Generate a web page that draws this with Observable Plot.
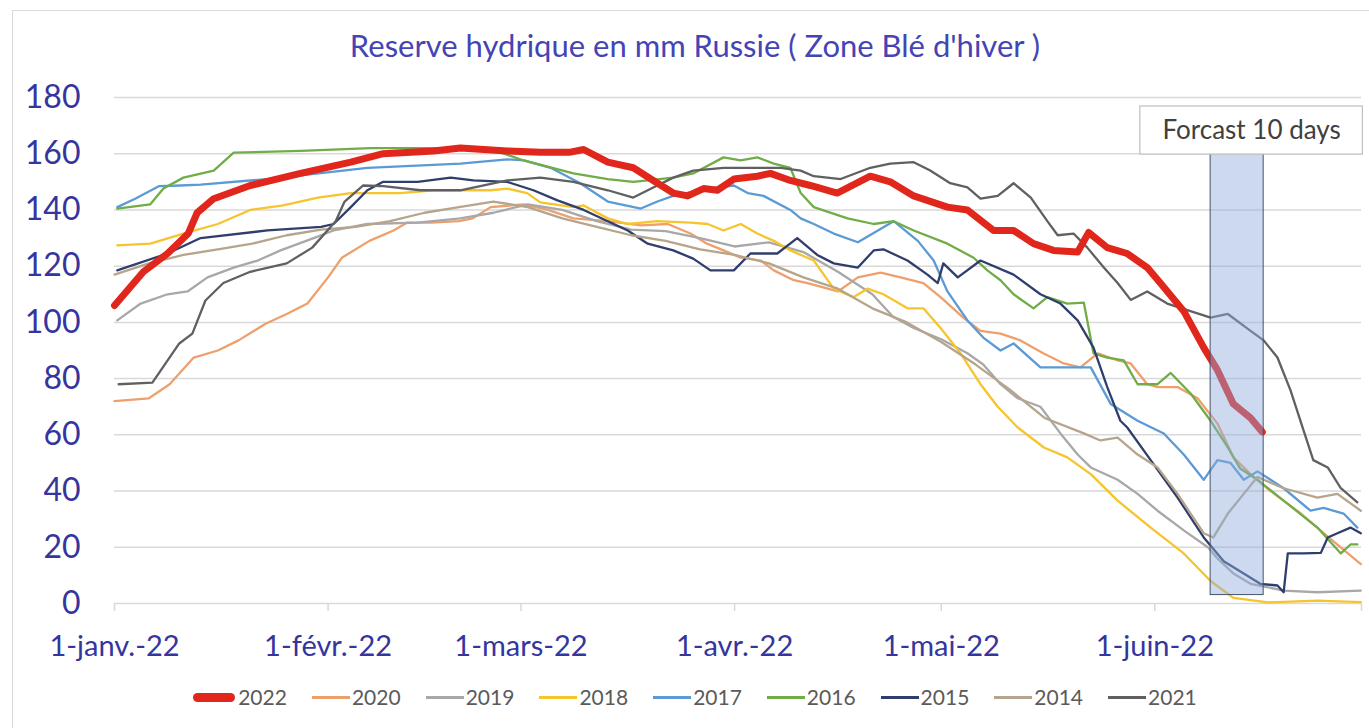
<!DOCTYPE html>
<html><head><meta charset="utf-8">
<script src="https://cdn.jsdelivr.net/npm/d3@7"></script>
<script src="https://cdn.jsdelivr.net/npm/@observablehq/plot@0.6"></script>
<style>
body{margin:0;background:#fff;font-family:Lato,sans-serif;width:1369px;height:728px;overflow:hidden;position:relative;}
#frame{position:absolute;left:12px;top:10px;right:0;bottom:0;border-top:1.5px solid #dadada;border-left:1.5px solid #dadada;}
#title{position:absolute;top:26px;left:10px;width:1370px;text-align:center;font-size:31px;line-height:38px;color:#4444b4;}
#chart{position:absolute;top:60px;left:0;}
#legend{position:absolute;top:685px;left:10px;width:1370px;display:flex;justify-content:center;gap:25px;font-size:21px;line-height:24px;color:#5a5a5a;}
.item{display:flex;align-items:center;}
.sw{width:38px;height:3px;margin-right:2px;}
.sw.big{width:42px;height:9px;border-radius:5px;margin-right:3px;}
</style></head>
<body>
<div id="frame"></div>
<div id="title">Reserve hydrique en mm Russie ( Zone Blé d'hiver )</div>
<div id="chart"></div>
<div id="legend"></div>
<script>
// ---- data: [day offset from 1 Jan 2022, mm] ----
const years  = ["2022","2020","2019","2018","2017","2016","2015","2014","2021"];
const colors = ["#e1261c","#eea06c","#a8a8a8","#f6c42c","#5b9bd5","#70ad47","#2f3e6c","#b6a58c","#606060"];

const s2022 = [[0,106],[4.2,118],[7.7,124.5],[10.7,131.6],[12,139],[14.4,144],[19.7,148.7],[27,153],[34.3,157],[39,160],[46.3,161],[50.2,162],[57,161],[61.8,160.5],[66,160.5],[68.1,161.5],[71.6,157],[75.3,155],[78.2,150.5],[81.1,146],[83.2,145],[85.5,147.6],[87.5,147],[89.9,151],[93.3,152],[95.2,153],[98.1,150.5],[101,148.7],[104.9,146],[109.7,152],[112.6,150],[116,145],[120.9,141],[123.8,140],[127.6,132.7],[130.5,132.7],[133.4,128],[136.3,125.6],[139.8,125],[141.4,132],[144.1,126.6],[147,124.5],[149.9,119.5],[151.8,114],[155.2,104],[158.1,91],[160.1,83],[162.4,71],[164.9,66],[166.6,61]];

const s2020 = [[0,72],[5,73],[8,78],[11.5,87.5],[15,90],[18,93.6],[22,99.6],[25,103],[28,106.7],[31,116],[33,123],[37,129],[40.5,132.7],[42.5,135.5],[46,135.5],[50,136],[52,137],[54.6,141],[59.4,142],[62.9,140],[66.6,137],[71.6,136],[76.4,134.5],[80.3,135],[83.6,131.6],[86,128],[88.4,125.6],[90.9,123],[93.8,122],[95.7,118.5],[98.6,115],[100.6,114],[105,111],[107.9,116],[111.2,117.7],[114.1,116],[117.4,114],[119.9,109],[123.2,101.7],[125.7,97],[128.6,96],[131.5,93.6],[134.8,89],[137.8,85.4],[140.2,84],[142.7,89],[145.6,86.5],[147.5,85.4],[149.9,78],[151.4,77],[154.3,77],[157.2,73],[160.1,64],[162.4,52],[164.9,46],[167.8,40],[172.2,32],[175.5,25],[180.9,14]];

const s2019 = [[0.4,100.7],[3.8,106.7],[7.7,110],[10.6,111],[13.5,116],[17.3,119.5],[20.8,122],[24.1,125.6],[28.9,130],[31.8,132.7],[36.7,135],[44,135.5],[50.2,137],[55,139],[60,142],[65,140],[70,136],[75,133],[80,132.5],[85,130],[90,127],[95,128.5],[100,125],[105,118],[110,110],[113,102],[116,98],[120,94],[123.8,89],[126.1,85],[128.6,78],[131.1,73],[134.4,70],[137.3,60.5],[139.8,53],[141.7,48.4],[145.6,44],[148.5,39],[151.4,33],[155.2,26],[158.7,20],[160.1,16],[162.4,10.7],[164.9,7],[169.7,4.6],[174.6,4],[180.9,4.6]];

const s2018 = [[0.4,127.4],[5.2,128],[10,131.6],[15,135],[19.7,140],[24.5,141.6],[29.5,144.4],[34.3,146],[41.5,146],[46.3,147],[54.6,147],[57,147.6],[59.9,146],[61.8,142.7],[66.6,141],[68.1,141.6],[71.6,137],[74.5,135],[78.8,136],[83.6,135.5],[86.1,135],[88.4,132.7],[90.9,135],[93.3,131.6],[95.7,129],[98.1,125.6],[101.5,122],[104.4,112],[107.3,109],[109.3,112],[111.6,110],[115.1,105],[117.4,105],[119.9,98],[122.8,89],[125.7,78],[128.2,70],[131.1,62.6],[134.9,55.5],[138.3,52],[141.7,46],[145.6,36.6],[150.4,27],[155.2,17.8],[159.1,8],[162.4,2],[167.4,0.4],[174.6,1],[180.9,0.5]];

const s2017 = [[0.4,141],[3,144],[6.5,148.5],[9.6,148.7],[12.5,149],[22.2,151],[36.7,155],[50.2,156.5],[57,158],[59.4,157.6],[63.3,155],[67.6,149.5],[71.6,143],[76.4,140.5],[78.8,143],[81.1,145],[86.1,147.6],[89.9,148.7],[91.9,146],[94.2,145],[98.1,140],[99.6,137],[101.5,135],[104.4,131.6],[107.9,128.5],[110.8,132.7],[113.1,136],[116.6,129],[118.9,122],[120.9,111],[123.8,100.7],[126.1,94.6],[128.6,90],[130.5,92.5],[134.4,84],[137.8,84],[141.7,84],[144.6,71],[148.5,65],[152.3,60.5],[155.2,53],[158.1,44],[160.1,51],[162,50],[163.9,44],[165.9,47],[167.8,44],[169.7,41],[173.6,33],[175.5,34],[178.4,32],[180.4,27]];

const s2016 = [[0.4,140.5],[5.2,142],[7.1,147.6],[10,151.5],[14.4,154],[17.3,160.4],[27,161],[37.2,162],[50.2,162],[56,160.5],[59.4,157.6],[66.6,153],[71.6,151],[75.3,150],[77.4,150.5],[81.1,151.5],[84,153],[88.4,158.7],[90.9,157.6],[93.3,158.7],[95.7,156.5],[98.1,155],[99.6,146],[101.5,141],[106.4,137],[110.2,135],[113.1,136],[116,132.7],[120.9,128],[124.7,123],[126.7,118.5],[128.6,115],[130.5,110],[133.4,105],[135.4,109],[138.3,106.7],[140.7,107],[142.1,89],[144.1,87.5],[146.5,86.5],[148.5,78],[151.4,78],[153.3,82],[156.2,74.7],[159.1,65],[161.6,55.5],[163.4,48],[165.9,44],[169.7,36.6],[174.6,27],[178,17.8],[179.4,21],[180.4,21]];

const s2015 = [[0.4,118.5],[7.7,124.5],[12.5,130],[22.2,132.7],[30,134],[31.8,135],[34.3,141],[36.7,147],[39,150],[44,150],[48.8,151.5],[52.1,150.5],[57,150],[60.8,147],[64.3,143.4],[68.1,140],[71.6,136],[74.5,132.7],[77.4,128],[81.1,125.6],[84,122.7],[86.5,118.5],[89.9,118.5],[92.3,124.5],[96.2,124.5],[99.1,130],[102,124],[104.4,121],[107.9,119.5],[110.2,125.6],[111.6,126],[115.1,122],[118,117],[119.5,114],[120.3,121],[122.4,116],[125.7,122],[130.5,117],[134.4,110],[137.3,106.7],[139.8,100.7],[142.1,91],[144.1,77],[146,65],[147,62.6],[150.4,51],[154.3,37.7],[158.1,23.5],[161,15],[163.9,10.7],[166.3,7],[168.8,6.4],[169.7,4],[170.3,17.8],[172.6,17.8],[175.1,18],[176.1,23.5],[177.5,25],[179.4,27],[180.9,25]];

const s2014 = [[0,117],[5,121],[10,124],[15,126],[20,128],[25,131],[30,133],[35,134],[40,136],[45,139],[50,141],[55,143],[60,141],[65,137],[70,134],[75,131],[80,129],[85,126],[90,124],[95,121],[100,116],[105,112],[110,105],[115,100],[120,93],[125,85],[130,76],[135,66],[140.7,60.5],[143.1,58],[145.6,59],[148.5,53],[151.4,48.4],[154.3,39],[156.2,32],[158.1,25],[159.5,23.5],[161.6,32],[163.9,39],[165.9,45],[169.7,41],[174.6,37.7],[177.5,39],[180.9,33]];

const s2021 = [[0.6,78],[5.5,78.6],[9.4,92.5],[11.3,96],[13.2,107.8],[15.8,114],[19.7,118],[25,121],[28.7,126.6],[32.1,136],[33.4,143],[36.1,148.7],[39,148.5],[44.4,147],[50.2,147],[57,150.5],[61.8,151.5],[66.6,150],[71.6,147],[75.3,144.4],[77.4,147],[81.1,151.5],[84,154],[88.4,155],[96.7,155],[99.6,154],[101.5,152],[105.4,151],[109.7,155],[112.6,156.5],[116,157],[118.4,154],[121.3,149.5],[123.8,148],[125.7,144],[128.2,145],[130.5,149.5],[133,144.4],[135.4,136],[136.9,131],[139.2,131.6],[141.2,126.6],[143.6,119.5],[145.6,114],[147.5,108],[149.9,111],[152.8,106.7],[159.1,101.7],[161.6,103],[164.9,97],[166.8,93.6],[168.8,87.5],[170.7,75.8],[172.6,61.5],[174,51],[176.1,48.4],[178,41],[180.4,36]];

const seriesByYear = {"2022":s2022,"2020":s2020,"2019":s2019,"2018":s2018,"2017":s2017,"2016":s2016,"2015":s2015,"2014":s2014,"2021":s2021};

const yTicks = [0,20,40,60,80,100,120,140,160,180];
const monthTicks = ["2022-01-01","2022-02-01","2022-03-01","2022-04-01","2022-05-01","2022-06-01","2022-07-01"];
const monthLabels = ["1-janv.-22","1-févr.-22","1-mars-22","1-avr.-22","1-mai-22","1-juin-22",""];

const forecast = {from: 159.1, to: 166.8, low: 3, high: 160};
const forecastLabel = {text: "Forcast 10 days", from: 148.9, to: 181.2, low: 159.7, high: 176.8};

// ---- build ----
const t0 = Date.UTC(2022,0,1);
const toDate = d => new Date(t0 + d*864e5);
const rows = [];
for (const y of years) for (const [d,v] of seriesByYear[y]) rows.push({year:y, date:toDate(d), value:v});
const others = rows.filter(r => r.year !== "2022");
const main = rows.filter(r => r.year === "2022");
const tickDates = monthTicks.map(s => new Date(s + "T00:00:00Z"));

const chart = Plot.plot({
  width: 1369, height: 620,
  marginLeft: 114, marginRight: 8, marginTop: 37, marginBottom: 77,
  style: {fontFamily: "Lato, sans-serif", background: "transparent", overflow: "visible"},
  x: {type: "utc", domain: [toDate(0), toDate(181)]},
  y: {domain: [0, 180]},
  color: {domain: years, range: colors},
  marks: [
    Plot.gridY(yTicks, {stroke: "#d9d9d9", strokeOpacity: 1, strokeWidth: 1.5}),
    Plot.axisY(yTicks, {tickSize: 0, tickPadding: 34, fontSize: 32, fill: "#35359e", label: null}),
    Plot.axisX(tickDates, {tickSize: 8, tickPadding: 24, fontSize: 29, stroke: "#d9d9d9", strokeWidth: 1.5, fill: "#35359e", label: null,
      tickFormat: (d) => monthLabels[tickDates.findIndex(t => +t === +d)]}),
    Plot.line(others, {x: "date", y: "value", z: "year", stroke: "year", strokeWidth: 2.3, strokeLinejoin: "round"}),
    Plot.line(main, {x: "date", y: "value", stroke: "year", strokeWidth: 7, strokeLinejoin: "round", strokeLinecap: "round"}),
    Plot.rect([forecast], {x1: d => toDate(d.from), x2: d => toDate(d.to), y1: "low", y2: "high", fill: "#8faadc", fillOpacity: 0.45, stroke: "#44546a", strokeWidth: 1}),
    Plot.rect([forecastLabel], {x1: d => toDate(d.from), x2: d => toDate(d.to), y1: "low", y2: "high", fill: "white", stroke: "#bfbfbf", strokeWidth: 1.2}),
    Plot.text([forecastLabel], {x: d => toDate((d.from + d.to)/2), y: d => (d.low + d.high)/2, text: "text", fontSize: 26, fill: "#404040"})
  ]
});
document.getElementById("chart").appendChild(chart);

// legend
const lg = document.getElementById("legend");
years.forEach((y, i) => {
  const it = document.createElement("div"); it.className = "item";
  const sw = document.createElement("div"); sw.className = "sw" + (y === "2022" ? " big" : "");
  sw.style.background = colors[i];
  const tx = document.createElement("span"); tx.textContent = y;
  it.appendChild(sw); it.appendChild(tx); lg.appendChild(it);
});
</script>
</body></html>
